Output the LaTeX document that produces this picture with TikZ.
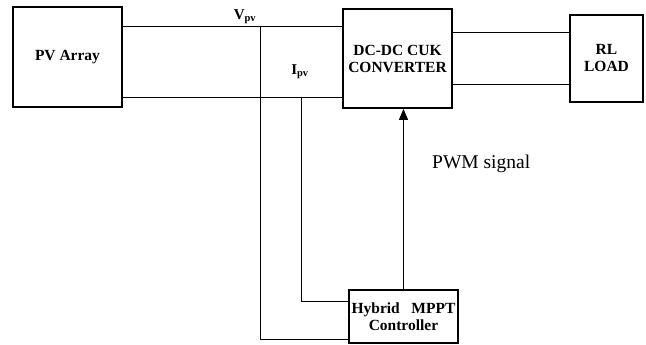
\documentclass[tikz,border=0pt]{standalone}
\usepackage{fontspec}
\setmainfont{Liberation Serif}
\usetikzlibrary{arrows.meta,positioning}

\begin{document}
\begin{tikzpicture}[
    x=1pt, y=-1pt,
    block/.style={draw, line width=1.8pt, fill=white, align=center, inner sep=0pt,
                  font=\fontsize{15.5}{17}\selectfont\bfseries},
    wire/.style={line width=1pt},
    arr/.style={-{Triangle[length=11pt, width=9pt]}, line width=1pt},
    lbl/.style={font=\fontsize{15}{17}\selectfont\bfseries, inner sep=0pt},
]
\useasboundingbox (0,0) rectangle (646,345);

\node[block, minimum width=109pt, minimum height=100pt] (pv) at (67.5,57) {PV Array};
\node[block, minimum width=109pt, minimum height=99pt] (conv) at (397.5,58.5) {DC-DC CUK\\CONVERTER};
\node[block, minimum width=73pt, minimum height=87pt] (load) at (606.5,58.5) {RL\\LOAD};
\node[block, minimum width=109pt, minimum height=53pt] (ctrl) at (403.5,316.5) {Hybrid~~~MPPT\\Controller};

\coordinate (vtap) at (260,27);
\coordinate (itap) at (301,98);

% PV side
\draw[wire] (pv.east |- vtap) -- (conv.west |- vtap);
\draw[wire] (pv.east |- itap) -- (conv.west |- itap);
\draw[wire] (vtap) |- ([yshift=-22.5pt]ctrl.west);
\draw[wire] (itap) |- ([yshift=15.5pt]ctrl.west);

% load side
\draw[wire] (conv.east |- 0,33) -- (load.west |- 0,33);
\draw[wire] (conv.east |- 0,85) -- (load.west |- 0,85);

\draw[arr] (ctrl.north) -- (ctrl.north |- conv.south);

\node[lbl] (vpv) at (245,17) {V\textsubscript{pv}};
\node[lbl] (ipv) at (300,72) {I\textsubscript{pv}};
\node[font=\fontsize{19.5}{22}\selectfont, anchor=west, inner sep=0pt] (pwm) at (432,164) {PWM signal};
\end{tikzpicture}
\end{document}
